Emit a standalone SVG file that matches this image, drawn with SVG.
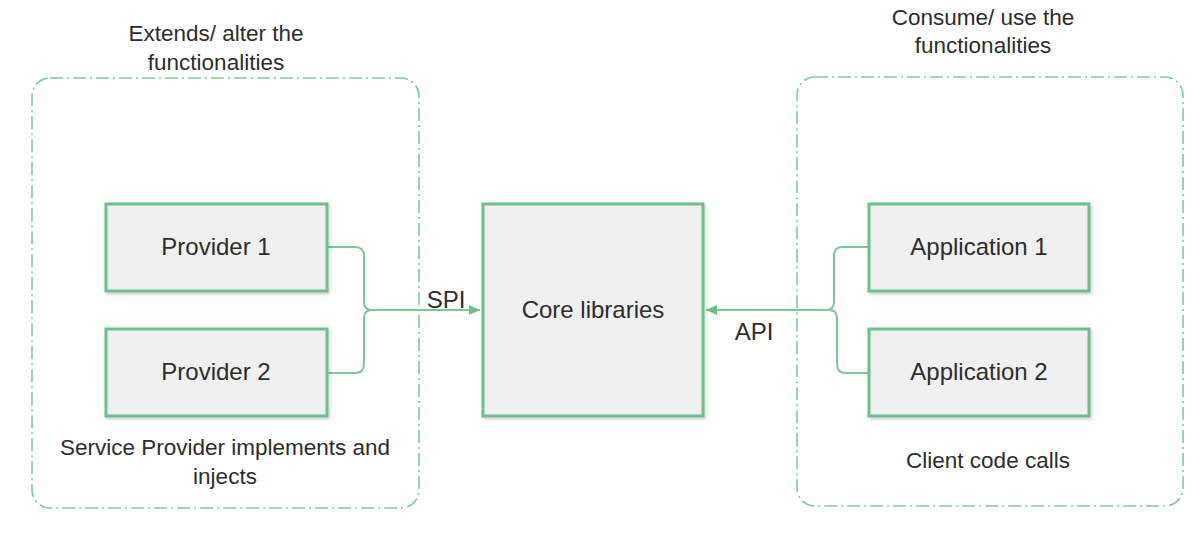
<svg xmlns="http://www.w3.org/2000/svg" width="1200" height="537" viewBox="0 0 1200 537">
  <defs>
    <style>
      .grp { fill: none; stroke: #7fc9a2; stroke-width: 1.6; stroke-dasharray: 13 4 2 4; }
      .box { fill: #f0f0f0; stroke: #6cc08e; stroke-width: 3; }
      .lbl { font-family: "Liberation Sans", Arial, sans-serif; font-size: 24px; fill: #2d2d2d; text-anchor: middle; }
      .note { font-family: "Liberation Sans", Arial, sans-serif; font-size: 22.5px; fill: #2d2d2d; text-anchor: middle; }
      .conn { fill: none; stroke: #78c99a; stroke-width: 2; }
    </style>
    <filter id="sh" x="-10%" y="-10%" width="130%" height="130%">
      <feDropShadow dx="1.5" dy="2" stdDeviation="1.5" flood-color="#000" flood-opacity="0.18"/>
    </filter>
    <marker id="arr" markerWidth="12" markerHeight="10" refX="11" refY="5" orient="auto" markerUnits="userSpaceOnUse">
      <path d="M0,0 L11,5 L0,10 Z" fill="#6cc08e"/>
    </marker>
  </defs>
  <rect width="1200" height="537" fill="#ffffff"/>

  <g id="group-left">
    <rect class="grp" x="32" y="78" width="387" height="430" rx="18"/>
    <text class="note" x="216" y="41">Extends/ alter the</text>
    <text class="note" x="216" y="70">functionalities</text>
    <text class="note" x="225" y="455">Service Provider implements and</text>
    <text class="note" x="225" y="484">injects</text>
  </g>
  <g id="group-right">
    <rect class="grp" x="797" y="77" width="386" height="429" rx="18"/>
    <text class="note" x="983" y="25">Consume/ use the</text>
    <text class="note" x="983" y="53">functionalities</text>
    <text class="note" x="988" y="468">Client code calls</text>
  </g>

  <g id="connectors">
    <path class="conn" d="M327,247 H355 Q364,247 364,256 V302 Q364,310 372,310 H480" marker-end="url(#arr)"/>
    <path class="conn" d="M327,373 H355 Q364,373 364,364 V318 Q364,310 372,310"/>
    <path class="conn" d="M868,247 H842 Q834,247 834,256 V302 Q834,310 826,310 H706" marker-end="url(#arr)"/>
    <path class="conn" d="M868,373 H846 Q837,373 837,364 V318 Q837,310 829,310"/>
    <text class="lbl" x="446" y="308">SPI</text>
    <text class="lbl" x="754" y="340">API</text>
  </g>

  <g id="provider1">
    <rect class="box" x="106" y="204" width="221" height="87" filter="url(#sh)"/>
    <text class="lbl" x="216" y="255">Provider 1</text>
  </g>
  <g id="provider2">
    <rect class="box" x="106" y="329" width="221" height="87" filter="url(#sh)"/>
    <text class="lbl" x="216" y="380">Provider 2</text>
  </g>
  <g id="core">
    <rect class="box" x="483" y="204" width="220" height="212" filter="url(#sh)"/>
    <text class="lbl" x="593" y="318">Core libraries</text>
  </g>
  <g id="application1">
    <rect class="box" x="869" y="204" width="220" height="87" filter="url(#sh)"/>
    <text class="lbl" x="979" y="255">Application 1</text>
  </g>
  <g id="application2">
    <rect class="box" x="869" y="329" width="220" height="87" filter="url(#sh)"/>
    <text class="lbl" x="979" y="380">Application 2</text>
  </g>
</svg>
